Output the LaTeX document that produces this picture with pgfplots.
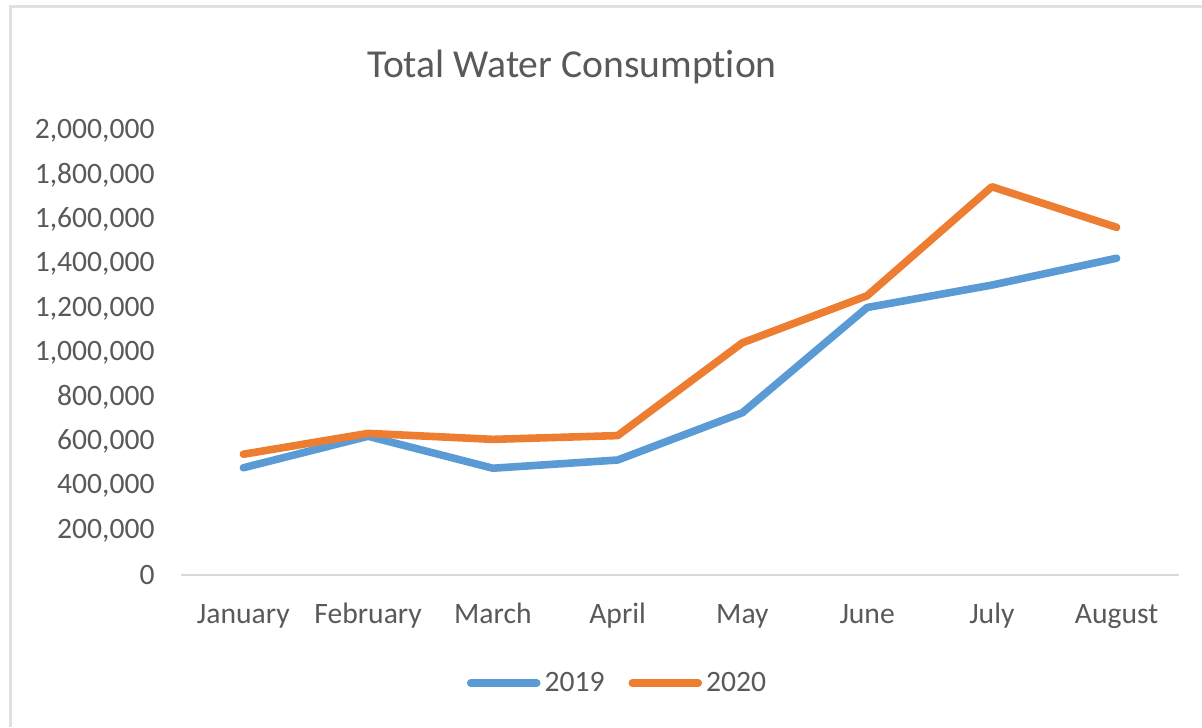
\documentclass[border=0pt]{standalone}
\usepackage{fontspec}
\setmainfont{Carlito}[Ligatures={NoCommon}]
\usepackage{pgfplots}
\pgfplotsset{compat=1.18}

\definecolor{xblue}{HTML}{5B9BD5}
\definecolor{xorange}{HTML}{ED7D31}
\definecolor{xtext}{HTML}{595959}
\definecolor{xaxis}{HTML}{D9D9D9}

\begin{document}
% 1 px of the reference = 0.5pt, origin at the top left corner
\begin{tikzpicture}
  \useasboundingbox (0pt,0pt) rectangle (601pt,-363.5pt);
  \draw[xaxis!80, line width=1.5pt] (5pt,-363.5pt) -- (5pt,-3.5pt) -- (601pt,-3.5pt);
  \node[anchor=base, text=xtext, inner sep=0pt] at (286pt,-39pt)
    {\fontsize{19.8}{24}\selectfont Total Water Consumption};
  \begin{axis}[
    at={(90.5pt,-287.5pt)}, anchor=south west,
    scale only axis,
    width=499pt, height=222pt,
    xmin=-0.5, xmax=7.5,
    ymin=0, ymax=2000000,
    ytick distance=200000,
    xtick={0,...,7},
    xticklabels={January,February,March,April,May,June,July,August},
    axis x line*=bottom,
    axis y line*=left,
    y axis line style={draw=none},
    x axis line style={xaxis, line width=1pt, -},
    major tick length=0pt,
    ticklabel style={text=xtext, font=\fontsize{14.8}{17}\selectfont},
    xticklabel style={anchor=base, inner sep=0pt, yshift=-24pt},
    yticklabel style={anchor=east, inner sep=0pt, xshift=-13pt},
    /pgf/number format/assume math mode=true,
    scaled y ticks=false,
    yticklabel={\pgfmathprintnumber[fixed, precision=0, 1000 sep={,}]{\tick}},
    legend columns=2,
    legend style={draw=none, fill=none, at={(0.4384,-0.2432)}, anchor=center,
      font=\fontsize{14.8}{17}\selectfont, text=xtext,
      /tikz/every even column/.append style={column sep=10pt}},
    legend image code/.code={\draw[#1, line cap=round] (0pt,0pt) -- (33pt,0pt);},
    every axis plot/.append style={line width=3.8pt, line join=round, line cap=round},
    clip=false,
  ]
    \addplot[xblue] coordinates {
      (0,483000) (1,625000) (2,481000) (3,518000)
      (4,731000) (5,1205000) (6,1306000) (7,1427000)
    };
    \addlegendentry{2019}
    \addplot[xorange] coordinates {
      (0,544000) (1,638000) (2,611000) (3,628000)
      (4,1046000) (5,1258000) (6,1749000) (7,1566000)
    };
    \addlegendentry{2020}
  \end{axis}
\end{tikzpicture}
\end{document}
